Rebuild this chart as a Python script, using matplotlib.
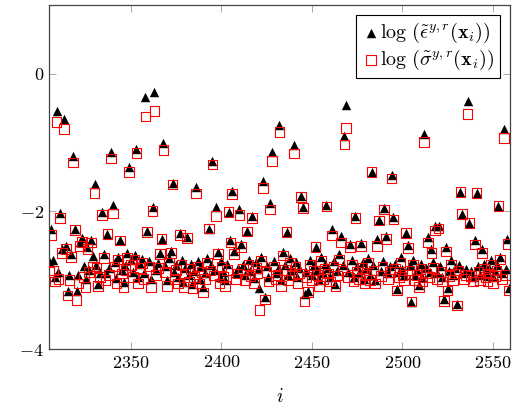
import numpy as np
import matplotlib
matplotlib.use("Agg")
import matplotlib.pyplot as plt

plt.rcParams["mathtext.fontset"] = "cm"
plt.rcParams["font.family"] = "serif"
plt.rcParams["font.serif"] = ["cmr10", "DejaVu Serif"]
plt.rcParams["axes.formatter.use_mathtext"] = True

# indice i, una fila por cada 15 puntos
idx = list(range(2305, 2560))

# log eps (triangulos negros)
eps = [
    -2.72, -2.25, -2.71, -2.95, -0.54, -2.88, -2.03, -2.55, -0.65, -2.50, -3.15, -2.92, -2.62, -1.20, -2.25,
    -3.15, -2.93, -2.45, -2.38, -2.80, -2.98, -2.52, -2.85, -2.41, -2.65, -1.60, -2.78, -3.05, -2.90, -2.01,
    -2.62, -2.90, -2.33, -2.82, -1.13, -1.91, -2.73, -2.97, -2.66, -2.42, -2.85, -3.02, -2.79, -2.60, -1.36,
    -2.70, -2.88, -2.64, -1.09, -2.96, -2.77, -2.69, -2.90, -0.34, -2.28, -2.72, -2.98, -1.94, -0.26, -2.85,
    -2.75, -2.60, -2.40, -1.01, -2.80, -3.00, -2.68, -2.57, -1.58, -2.88, -2.78, -2.95, -2.32, -2.70, -3.02,
    -2.82, -2.37, -2.93, -2.76, -3.05, -2.86, -1.64, -2.72, -2.98, -2.80, -3.10, -2.90, -2.68, -2.25, -2.78,
    -1.27, -2.85, -1.94, -2.59, -2.95, -2.72, -2.88, -3.00, -2.76, -2.01, -2.41, -1.71, -2.58, -2.90, -2.82,
    -1.97, -2.47, -2.78, -2.93, -2.29, -2.70, -2.86, -2.06, -2.97, -2.74, -2.84, -3.12, -2.66, -1.56, -3.25,
    -2.80, -2.95, -1.88, -1.14, -2.72, -2.90, -2.84, -0.74, -3.00, -2.59, -2.78, -2.30, -2.92, -2.68, -2.85,
    -1.04, -2.74, -2.96, -2.82, -1.78, -1.94, -3.20, -2.88, -3.15, -2.70, -2.93, -2.78, -2.52, -2.85, -3.00,
    -2.66, -2.90, -2.76, -1.91, -2.82, -2.95, -2.25, -2.72, -3.05, -2.86, -2.62, -2.35, -2.78, -0.91, -0.46,
    -2.88, -2.47, -2.70, -2.95, -2.06, -2.80, -2.90, -2.46, -2.74, -2.98, -2.84, -2.68, -2.92, -1.43, -2.78,
    -3.00, -2.40, -2.13, -2.86, -2.72, -1.95, -2.35, -2.90, -2.80, -1.47, -2.08, -2.76, -3.13, -2.88, -2.66,
    -2.84, -2.93, -2.31, -2.49, -2.78, -3.31, -2.70, -2.92, -2.85, -3.07, -2.76, -2.95, -0.87, -2.82, -2.37,
    -2.88, -2.54, -2.74, -2.21, -2.90, -2.21, -2.80, -2.95, -3.27, -2.52, -3.11, -2.86, -2.70, -2.92, -2.82,
    -3.35, -2.78, -1.72, -2.04, -2.90, -2.84, -0.39, -2.17, -2.86, -2.95, -2.41, -1.73, -2.80, -2.92, -2.54,
    -2.76, -2.88, -2.94, -2.82, -2.70, -2.96, -2.86, -2.78, -1.92, -2.66, -2.90, -0.80, -2.84, -2.40, -3.11,
]

# log sigma (cuadrados rojos)
sig = [
    -2.88, -2.34, -2.86, -3.02, -0.70, -2.98, -2.10, -2.60, -0.80, -2.55, -3.22, -3.00, -2.66, -1.29, -2.27,
    -3.29, -3.05, -2.50, -2.44, -2.95, -3.10, -2.55, -2.88, -2.45, -2.80, -1.73, -2.82, -3.08, -2.95, -2.05,
    -2.68, -3.00, -2.33, -2.92, -1.23, -2.03, -2.80, -3.05, -2.70, -2.42, -2.90, -3.10, -2.85, -2.68, -1.43,
    -2.78, -2.95, -2.70, -1.15, -3.05, -2.82, -2.75, -2.98, -0.62, -2.30, -2.80, -3.10, -1.99, -0.54, -2.92,
    -2.82, -2.62, -2.40, -1.11, -2.88, -3.08, -2.75, -2.60, -1.61, -2.98, -2.85, -3.05, -2.34, -2.78, -3.10,
    -2.90, -2.39, -3.02, -2.84, -3.12, -2.95, -1.74, -2.80, -3.05, -2.88, -3.18, -2.98, -2.75, -2.25, -2.86,
    -1.32, -2.93, -2.07, -2.62, -3.05, -2.80, -2.95, -3.08, -2.85, -2.01, -2.45, -1.75, -2.62, -2.98, -2.90,
    -2.05, -2.52, -2.84, -3.00, -2.29, -2.78, -2.94, -2.10, -3.05, -2.82, -2.90, -3.43, -2.72, -1.66, -3.28,
    -2.88, -3.02, -1.97, -1.27, -2.80, -2.98, -2.92, -0.85, -3.08, -2.64, -2.85, -2.30, -3.00, -2.75, -2.92,
    -1.16, -2.80, -3.05, -2.90, -1.79, -1.95, -3.31, -2.95, -3.17, -2.78, -3.00, -2.86, -2.52, -2.92, -3.08,
    -2.72, -2.98, -2.84, -1.93, -2.90, -3.02, -2.35, -2.80, -3.08, -2.93, -2.70, -2.45, -2.86, -1.03, -0.79,
    -2.95, -2.52, -2.78, -3.02, -2.10, -2.88, -2.98, -2.50, -2.82, -3.05, -2.92, -2.75, -3.00, -1.43, -2.86,
    -3.05, -2.50, -2.13, -2.94, -2.80, -1.97, -2.40, -2.98, -2.88, -1.52, -2.12, -2.84, -3.15, -2.95, -2.74,
    -2.92, -3.00, -2.31, -2.53, -2.86, -3.31, -2.78, -3.00, -2.92, -3.10, -2.84, -3.02, -0.99, -2.90, -2.45,
    -2.95, -2.60, -2.82, -2.28, -2.98, -2.25, -2.88, -3.02, -3.30, -2.58, -3.15, -2.94, -2.78, -3.00, -2.90,
    -3.37, -2.86, -1.72, -2.04, -2.98, -2.92, -0.58, -2.17, -2.94, -3.02, -2.48, -1.73, -2.88, -3.00, -2.60,
    -2.84, -2.95, -3.02, -2.90, -2.78, -3.05, -2.94, -2.86, -1.92, -2.70, -2.98, -0.93, -2.92, -2.47, -3.15,
]

xticks = [2350, 2400, 2450, 2500, 2550]
yticks = [-4, -2, 0]

fig = plt.figure(figsize=(5.2, 4.17), dpi=100)
ax = fig.add_axes([0.094, 0.163, 0.887, 0.825])

ax.scatter(idx, eps, marker="^", s=46, color="black", linewidths=0,
           label=r"$\log\,(\tilde{\epsilon}^{y,r}(\mathbf{x}_i))$", zorder=2)
ax.scatter(idx, sig, marker="s", s=48, facecolors="none", edgecolors="red",
           linewidths=0.8, label=r"$\log\,(\tilde{\sigma}^{y,r}(\mathbf{x}_i))$", zorder=3)

ax.set_xlim(2304.7, 2559.5)
ax.set_ylim(-4, 1)
ax.set_xticks(xticks)
ax.set_xticklabels(["$%d$" % t for t in xticks], fontsize=13)
ax.set_yticks(yticks)
ax.set_yticklabels(["$%d$" % t for t in yticks], fontsize=13)
ax.tick_params(direction="in", top=True, right=True, length=5, width=0.6, color="#999999")
for s in ax.spines.values():
    s.set_linewidth(0.9)
    s.set_color("#444444")
ax.set_xlabel("$i$", fontsize=14, labelpad=12)

leg = ax.legend(loc="upper right", fontsize=14.5, handletextpad=0.0, handlelength=0.9,
                borderpad=0.3, labelspacing=0.15, fancybox=False, framealpha=1,
                borderaxespad=0.5)
leg.get_frame().set_edgecolor("black")
leg.get_frame().set_linewidth(0.8)

fig.savefig("out.png", dpi=100)
